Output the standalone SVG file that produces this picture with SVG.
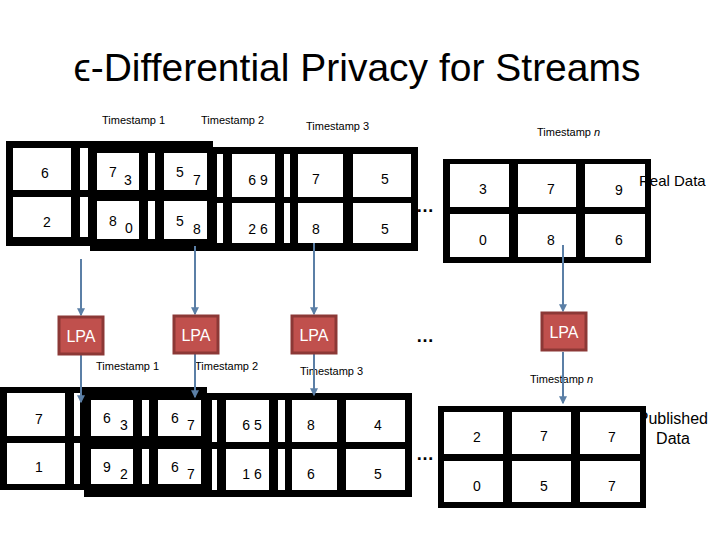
<svg xmlns="http://www.w3.org/2000/svg" width="720" height="540" viewBox="0 0 720 540">
<style>
text{font-family:"Liberation Sans",Arial,sans-serif;fill:#000}
.ts{font-size:11px}
.n{font-size:14px;text-anchor:middle}
.c{fill:#fff}
.k{fill:#000}
.lpa rect{fill:#c0504d;stroke:#8c3836;stroke-width:3}
.lpa text{fill:#fff;font-size:16px;text-anchor:middle}
.ln{stroke:#5b7fa6;stroke-width:2;fill:none}
</style>
<defs><marker id="a" viewBox="0 0 6 6" refX="5" refY="3" markerWidth="4" markerHeight="4" orient="auto"><path d="M0,0L6,3L0,6z" fill="#5b7fa6"/></marker></defs>
<rect width="720" height="540" fill="#fff"/>
<text x="357" y="81" font-size="39" text-anchor="middle">ϵ-Differential Privacy for Streams</text>
<g id="labels">
<text class="ts" x="102" y="124">Timestamp 1</text>
<text class="ts" x="201" y="124">Timestamp 2</text>
<text class="ts" x="306" y="130">Timestamp 3</text>
<text class="ts" x="537" y="136">Timestamp <tspan font-style="italic">n</tspan></text>
<text class="ts" x="96" y="370">Timestamp 1</text>
<text class="ts" x="195" y="370">Timestamp 2</text>
<text class="ts" x="300" y="375">Timestamp 3</text>
<text class="ts" x="530" y="383">Timestamp <tspan font-style="italic">n</tspan></text>
<text x="708" y="424" font-size="16" text-anchor="end">Published</text>
<text x="673" y="444" font-size="16" text-anchor="middle">Data</text>
<text x="425" y="212" font-size="18" font-weight="bold" text-anchor="middle">…</text>
<text x="425" y="342" font-size="18" font-weight="bold" text-anchor="middle">…</text>
<text x="425" y="460" font-size="18" font-weight="bold" text-anchor="middle">…</text>
</g>
<g id="real-data">
<rect class="k" x="6" y="141" width="207" height="105"/>
<rect class="k" x="90" y="147" width="328" height="104"/>
<rect class="c" x="13" y="148" width="58" height="42"/><rect class="c" x="80" y="148" width="8" height="42"/>
<rect class="c" x="13" y="197" width="58" height="40"/><rect class="c" x="80" y="197" width="8" height="40"/>
<rect class="c" x="97" y="153" width="42" height="37"/><rect class="c" x="148" y="153" width="7" height="37"/><rect class="c" x="164" y="153" width="43" height="37"/>
<rect class="c" x="97" y="201" width="42" height="38"/><rect class="c" x="148" y="201" width="7" height="38"/><rect class="c" x="164" y="201" width="43" height="38"/>
<rect class="c" x="217" y="154" width="6" height="43"/><rect class="c" x="232" y="154" width="43" height="43"/><rect class="c" x="284" y="154" width="6" height="43"/><rect class="c" x="298" y="154" width="45" height="43"/><rect class="c" x="353" y="154" width="58" height="43"/>
<rect class="c" x="217" y="203" width="6" height="40"/><rect class="c" x="232" y="203" width="43" height="40"/><rect class="c" x="284" y="203" width="6" height="40"/><rect class="c" x="298" y="203" width="45" height="40"/><rect class="c" x="353" y="203" width="58" height="40"/>
<text class="n" x="45" y="178">6</text><text class="n" x="113" y="177">7</text><text class="n" x="128" y="185">3</text><text class="n" x="180" y="177">5</text><text class="n" x="197" y="185">7</text><text class="n" x="258" y="185">6 9</text><text class="n" x="316" y="184">7</text><text class="n" x="385" y="184">5</text>
<text class="n" x="47" y="227">2</text><text class="n" x="113" y="226">8</text><text class="n" x="129" y="233">0</text><text class="n" x="180" y="226">5</text><text class="n" x="197" y="234">8</text><text class="n" x="258" y="234">2 6</text><text class="n" x="316" y="234">8</text><text class="n" x="385" y="234">5</text>
</g>
<g id="real-data-n">
<rect class="k" x="443" y="159" width="208" height="104"/>
<rect class="c" x="450" y="164" width="59" height="43"/><rect class="c" x="518" y="164" width="58" height="43"/><rect class="c" x="585" y="164" width="60" height="43"/>
<rect class="c" x="450" y="214" width="59" height="43"/><rect class="c" x="518" y="214" width="58" height="43"/><rect class="c" x="585" y="214" width="60" height="43"/>
<text class="n" x="483" y="194">3</text><text class="n" x="551" y="194">7</text><text class="n" x="619" y="195">9</text>
<text class="n" x="483" y="245">0</text><text class="n" x="551" y="245">8</text><text class="n" x="619" y="245">6</text>
</g>
<text x="639" y="186" font-size="15">Real Data</text>
<g id="published">
<rect class="k" x="0" y="387" width="207" height="103"/>
<rect class="k" x="84" y="393" width="328" height="104"/>
<rect class="c" x="7" y="393" width="58" height="43"/><rect class="c" x="74" y="393" width="6" height="43"/>
<rect class="c" x="7" y="443" width="58" height="41"/><rect class="c" x="74" y="443" width="6" height="41"/>
<rect class="c" x="91" y="400" width="42" height="36"/><rect class="c" x="142" y="400" width="7" height="36"/><rect class="c" x="158" y="400" width="43" height="36"/>
<rect class="c" x="91" y="449" width="42" height="35"/><rect class="c" x="142" y="449" width="7" height="35"/><rect class="c" x="158" y="449" width="43" height="35"/>
<rect class="c" x="212" y="400" width="5" height="42"/><rect class="c" x="226" y="400" width="43" height="42"/><rect class="c" x="278" y="400" width="7" height="42"/><rect class="c" x="292" y="400" width="45" height="42"/><rect class="c" x="346" y="400" width="59" height="42"/>
<rect class="c" x="212" y="449" width="5" height="41"/><rect class="c" x="226" y="449" width="43" height="41"/><rect class="c" x="278" y="449" width="7" height="41"/><rect class="c" x="292" y="449" width="45" height="41"/><rect class="c" x="346" y="449" width="59" height="41"/>
<text class="n" x="39" y="424">7</text><text class="n" x="107" y="423">6</text><text class="n" x="124" y="430">3</text><text class="n" x="175" y="423">6</text><text class="n" x="191" y="430">7</text><text class="n" x="252" y="430">6 5</text><text class="n" x="311" y="430">8</text><text class="n" x="378" y="430">4</text>
<text class="n" x="39" y="472">1</text><text class="n" x="107" y="472">9</text><text class="n" x="124" y="479">2</text><text class="n" x="175" y="472">6</text><text class="n" x="191" y="479">7</text><text class="n" x="252" y="479">1 6</text><text class="n" x="311" y="479">6</text><text class="n" x="378" y="479">5</text>
</g>
<g id="published-n">
<rect class="k" x="438" y="406" width="208" height="102"/>
<rect class="c" x="444" y="412" width="59" height="42"/><rect class="c" x="512" y="412" width="59" height="42"/><rect class="c" x="580" y="412" width="60" height="42"/>
<rect class="c" x="444" y="461" width="59" height="41"/><rect class="c" x="512" y="461" width="59" height="41"/><rect class="c" x="580" y="461" width="60" height="41"/>
<text class="n" x="477" y="442">2</text><text class="n" x="544" y="441">7</text><text class="n" x="612" y="442">7</text>
<text class="n" x="477" y="491">0</text><text class="n" x="544" y="491">5</text><text class="n" x="612" y="491">7</text>
</g>
<g id="connectors">
<line class="ln" x1="81" y1="259" x2="81" y2="315" marker-end="url(#a)"/>
<line class="ln" x1="81" y1="355" x2="81" y2="402" marker-end="url(#a)"/>
<line class="ln" x1="195" y1="246" x2="195" y2="314" marker-end="url(#a)"/>
<line class="ln" x1="195" y1="354" x2="195" y2="397" marker-end="url(#a)"/>
<line class="ln" x1="314" y1="243" x2="314" y2="314" marker-end="url(#a)"/>
<line class="ln" x1="314" y1="354" x2="314" y2="395" marker-end="url(#a)"/>
<line class="ln" x1="563" y1="245" x2="563" y2="311" marker-end="url(#a)"/>
<line class="ln" x1="563" y1="352" x2="563" y2="403" marker-end="url(#a)"/>
</g>
<g id="lpa1" class="lpa"><rect x="59" y="317" width="44" height="37"/><text x="81" y="342">LPA</text></g>
<g id="lpa2" class="lpa"><rect x="174" y="316" width="44" height="37"/><text x="196" y="341">LPA</text></g>
<g id="lpa3" class="lpa"><rect x="292" y="316" width="44" height="37"/><text x="314" y="341">LPA</text></g>
<g id="lpa4" class="lpa"><rect x="542" y="313" width="44" height="37"/><text x="564" y="338">LPA</text></g>
</svg>
